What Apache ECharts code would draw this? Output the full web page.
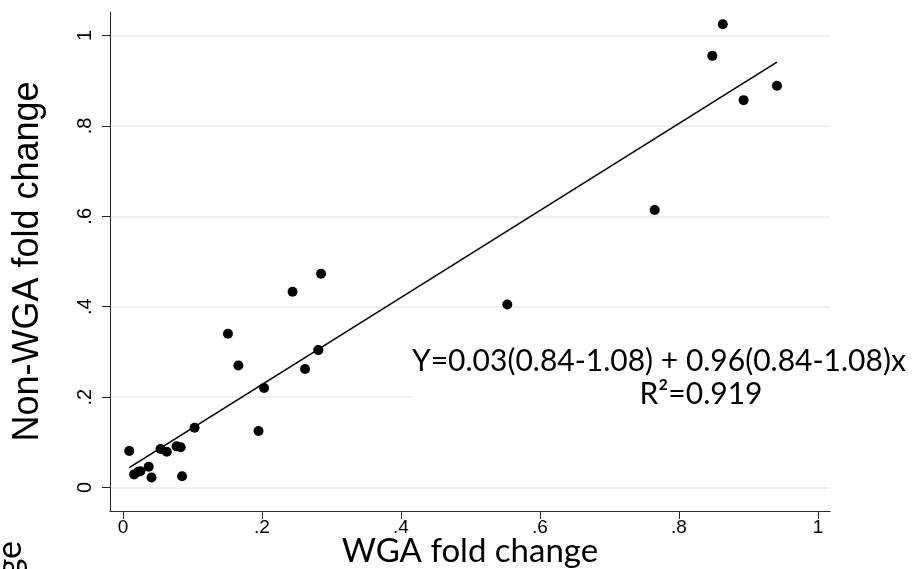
<!DOCTYPE html>
<html><head><meta charset="utf-8">
<script src="https://cdn.jsdelivr.net/npm/echarts@6/dist/echarts.min.js"></script>
<style>html,body{margin:0;padding:0;background:#fff}#c{width:913px;height:569px}</style>
</head><body><div id="c"></div>
<script>
// WGA fold change (x) vs Non-WGA fold change (y)
const wgaX = [0.009, 0.016, 0.022, 0.025, 0.037, 0.041, 0.054, 0.063, 0.077, 0.083, 0.085, 0.103,
  0.151, 0.166, 0.195, 0.203, 0.262, 0.281, 0.244, 0.285, 0.553, 0.765, 0.848, 0.863, 0.893, 0.941];
const nonWgaY = [0.081, 0.029, 0.035, 0.036, 0.046, 0.022, 0.085, 0.079, 0.091, 0.089, 0.025, 0.132,
  0.340, 0.270, 0.125, 0.220, 0.262, 0.304, 0.433, 0.473, 0.405, 0.614, 0.955, 1.025, 0.857, 0.889];
// fitted regression line end points
const fitX = [0.009, 0.941];
const fitY = [0.044, 0.941];
const xTicks = [0, 0.2, 0.4, 0.6, 0.8, 1];
const yTicks = [0, 0.2, 0.4, 0.6, 0.8, 1];
const tickText = ['0', '.2', '.4', '.6', '.8', '1'];
const eqLine1 = 'Y=0.03(0.84-1.08) + 0.96(0.84-1.08)x';
const eqLine2 = 'R\u00B2=0.919';

function fmt(v) {
  for (let i = 0; i < xTicks.length; i++) if (Math.abs(xTicks[i] - v) < 1e-9) return tickText[i];
  return '';
}

const chart = echarts.init(document.getElementById('c'), null, {renderer: 'canvas'});
chart.setOption({
  backgroundColor: '#fff',
  animation: false,
  grid: {left: 110, right: 83, top: 12, bottom: 58, containLabel: false, outerBoundsMode: 'none'},
  xAxis: {
    type: 'value', min: -0.0187, max: 1.0173,
    axisLine: {show: true, onZero: false, lineStyle: {color: '#222', width: 1}},
    axisTick: {show: true, customValues: xTicks, length: 8, lineStyle: {color: '#222', width: 1}},
    axisLabel: {customValues: xTicks, formatter: fmt, fontFamily: 'Liberation Sans', fontSize: 19, color: '#000', margin: 7},
    splitLine: {show: false},
    name: 'WGA fold change', nameLocation: 'middle', nameGap: 24, nameMoveOverlap: false,
    nameTextStyle: {fontFamily: 'Lato', fontSize: 33, color: '#000'}
  },
  yAxis: {
    type: 'value', min: -0.052, max: 1.052,
    axisLine: {show: true, onZero: false, lineStyle: {color: '#222', width: 1}},
    axisTick: {show: true, customValues: yTicks, length: 8, lineStyle: {color: '#222', width: 1}},
    axisLabel: {customValues: yTicks, formatter: fmt, rotate: 90, fontFamily: 'Liberation Sans', fontSize: 20, color: '#000', margin: 15},
    splitLine: {show: true, lineStyle: {color: '#e5edef', width: 1.5}},
    name: 'Non-WGA fold change', nameLocation: 'middle', nameGap: 64,
    nameTextStyle: {fontFamily: 'Liberation Sans', fontSize: 36, color: '#000'}
  },
  graphic: [
    {type: 'rect', z: 50, shape: {x: 412, y: 338, width: 501, height: 74}, style: {fill: '#fff'}},
    {type: 'text', z: 51, style: {text: eqLine1, x: 412, y: 361, textAlign: 'left', textVerticalAlign: 'middle', font: '30px Lato', fill: '#000'}},
    {type: 'text', z: 51, style: {text: eqLine2, x: 701, y: 394, textAlign: 'center', textVerticalAlign: 'middle', font: '30px Lato', fill: '#000'}},
    {type: 'text', z: 51, x: 10, y: 541, rotation: Math.PI / 2, style: {text: 'fold change', x: 0, y: 0, textAlign: 'right', textVerticalAlign: 'middle', font: '34px Lato', fill: '#000'}}
  ],
  series: [
    {type: 'line', data: fitX.map((x, i) => [x, fitY[i]]), showSymbol: false, symbol: 'none',
      lineStyle: {color: '#000', width: 1.6}, z: 2, silent: true},
    {type: 'scatter', data: wgaX.map((x, i) => [x, nonWgaY[i]]), symbol: 'circle', symbolSize: 10,
      itemStyle: {color: '#000', opacity: 1}, z: 3, clip: false}
  ]
});
</script></body></html>
